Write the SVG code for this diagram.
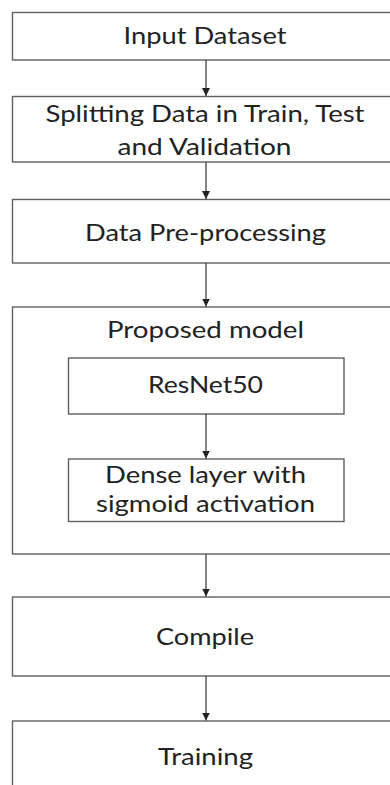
<svg xmlns="http://www.w3.org/2000/svg" width="390" height="785" viewBox="0 0 390 785">
<style>
.box{fill:#fff;stroke:#5f5f5f;stroke-width:1.4}
.t{font-family:Lato,"Open Sans","Liberation Sans",sans-serif;font-size:23px;fill:#222;text-anchor:middle}
.c{stroke:#444;stroke-width:1.3;fill:none}
</style>
<defs>
<marker id="ah" viewBox="0 0 8 8" refX="8" refY="4" markerWidth="8" markerHeight="8" markerUnits="userSpaceOnUse" orient="auto">
<path d="M0,0 L8,4 L0,8 Z" fill="#222"/>
</marker>
</defs>
<rect width="390" height="785" fill="#fff"/>
<g id="n1"><rect class="box" x="12.5" y="12.5" width="400" height="47.5"/><text class="t" x="205" y="44" textLength="163" lengthAdjust="spacingAndGlyphs">Input Dataset</text></g>
<g id="n2"><rect class="box" x="12.5" y="96.5" width="400" height="65.5"/><text class="t" x="205" y="122" textLength="319" lengthAdjust="spacingAndGlyphs">Splitting Data in Train, Test</text><text class="t" x="204.5" y="155" textLength="174" lengthAdjust="spacingAndGlyphs">and Validation</text></g>
<g id="n3"><rect class="box" x="12.5" y="199.5" width="400" height="63.5"/><text class="t" x="205.5" y="240.5" textLength="241" lengthAdjust="spacingAndGlyphs">Data Pre-processing</text></g>
<g id="n4"><rect class="box" x="12.5" y="307" width="400" height="247"/><text class="t" x="205.5" y="338" textLength="197" lengthAdjust="spacingAndGlyphs">Proposed model</text></g>
<g id="n5"><rect class="box" x="68.5" y="358" width="275.5" height="56"/><text class="t" x="205.5" y="393" textLength="115" lengthAdjust="spacingAndGlyphs">ResNet50</text></g>
<g id="n6"><rect class="box" x="68.5" y="459" width="275.5" height="62.5"/><text class="t" x="205.5" y="483" textLength="201" lengthAdjust="spacingAndGlyphs">Dense layer with</text><text class="t" x="205.5" y="512" textLength="219" lengthAdjust="spacingAndGlyphs">sigmoid activation</text></g>
<g id="n7"><rect class="box" x="12.5" y="597" width="400" height="79"/><text class="t" x="205" y="645" textLength="98" lengthAdjust="spacingAndGlyphs">Compile</text></g>
<g id="n8"><rect class="box" x="12.5" y="721" width="400" height="100"/><text class="t" x="205.5" y="765" textLength="95" lengthAdjust="spacingAndGlyphs">Training</text></g>
<g id="connectors">
<line class="c" x1="206" y1="60" x2="206" y2="96" marker-end="url(#ah)"/>
<line class="c" x1="206" y1="162" x2="206" y2="199" marker-end="url(#ah)"/>
<line class="c" x1="206" y1="263" x2="206" y2="306.5" marker-end="url(#ah)"/>
<line class="c" x1="206" y1="414" x2="206" y2="458.5" marker-end="url(#ah)"/>
<line class="c" x1="206" y1="554" x2="206" y2="596.5" marker-end="url(#ah)"/>
<line class="c" x1="206" y1="676" x2="206" y2="720.5" marker-end="url(#ah)"/>
</g>
</svg>
